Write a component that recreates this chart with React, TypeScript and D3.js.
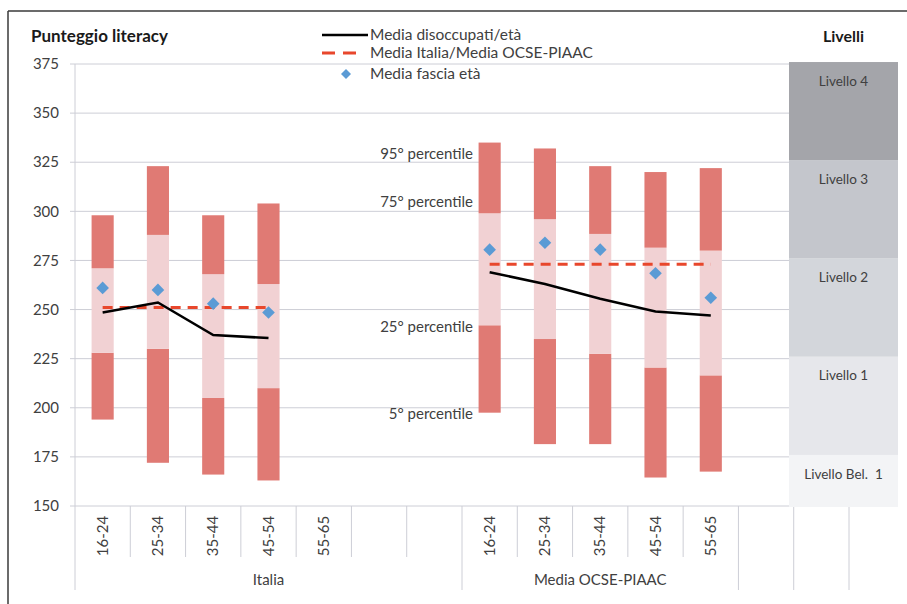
import * as d3 from 'd3';

// categorie sull'asse x (14 slot, come nel grafico originale)
const ageGroups = ['16-24', '25-34', '35-44', '45-54', '55-65'];
const categoryLabels = [...ageGroups, '', '', ...ageGroups, '', ''];
const groupNames = ['Italia', 'Media OCSE-PIAAC', '', ''];
const groupSizes = [7, 5, 1, 1];

// Italia (55-65 non disponibile)
const itaP5 = [194, 172, 166, 163];
const itaP25 = [228, 230, 205, 210];
const itaP75 = [271, 288, 268, 263];
const itaP95 = [298, 323, 298, 304];
const itaFascia = [261, 260, 253, 248.5];
const itaDisoccupati = [248.5, 253.6, 237, 235.5];
const itaMedia = 251;

// Media OCSE-PIAAC
const ocseP5 = [197.5, 181.5, 181.5, 164.5, 167.5];
const ocseP25 = [242, 235, 227.5, 220.5, 216.5];
const ocseP75 = [299, 296, 288.5, 281.5, 280];
const ocseP95 = [335, 332, 323, 320, 322];
const ocseFascia = [280.5, 284, 280.5, 268.5, 256];
const ocseDisoccupati = [269, 263, 255.5, 249, 247];
const ocseMedia = 273;

// etichette dei percentili accanto alla prima barra OCSE
const percentileLabels = ['95° percentile', '75° percentile', '25° percentile', '5° percentile'];
const percentileLabelValues = [329.5, 305, 241, 197];

// livelli di competenza
const levelNames = ['Livello Bel.  1', 'Livello 1', 'Livello 2', 'Livello 3', 'Livello 4'];
const levelBounds = [150, 176, 226, 276, 326, 376];
const levelColors = ['#f3f4f6', '#e6e7eb', '#d3d6db', '#c4c6cc', '#a4a5aa'];

const yTicks = [150, 175, 200, 225, 250, 275, 300, 325, 350, 375];

const width = 907;
const height = 604;
const font = 'Lato, "Open Sans", sans-serif';
const textColor = '#404040';
const gridColor = '#cdced6';
const darkBar = '#e07a74';
const lightBar = '#f1d1d3';
const diamondColor = '#5b9bd5';

export default function App() {
    const yScale = d3.scaleLinear().domain([150, 375]).range([506, 64]);
    const xScale = d3
        .scaleBand<number>()
        .domain(d3.range(categoryLabels.length))
        .range([75, 849]);
    const bw = xScale.bandwidth();
    const barW = bw * 0.4;
    const cx = (i: number) => (xScale(i) as number) + bw / 2;

    const panelX0 = 789;
    const panelX1 = 898;

    const series = [
        { offset: 0, p5: itaP5, p25: itaP25, p75: itaP75, p95: itaP95, fascia: itaFascia, dis: itaDisoccupati, media: itaMedia },
        { offset: 7, p5: ocseP5, p25: ocseP25, p75: ocseP75, p95: ocseP95, fascia: ocseFascia, dis: ocseDisoccupati, media: ocseMedia },
    ];

    const diamond = d3.symbol(d3.symbolSquare, 80)() as string;
    const legendDiamond = d3.symbol(d3.symbolSquare, 50)() as string;

    // confini dei gruppi
    const groupStarts: number[] = [];
    let acc = 0;
    groupSizes.forEach((s) => {
        groupStarts.push(acc);
        acc += s;
    });

    return (
        <svg width={width} height={height} style={{ position: 'absolute', left: 0, top: 0 }} fontFamily={font}>
            <rect width={width} height={height} fill='#fff' />
            {/* cornice */}
            <line x1={8} x2={width} y1={11} y2={11} stroke='#3a3a3a' strokeWidth={1.5} />
            <line x1={8} x2={8} y1={11} y2={height} stroke='#3a3a3a' strokeWidth={1.5} />

            {/* griglia e asse y */}
            {yTicks.map((t) => (
                <g key={t} transform={`translate(0, ${yScale(t)})`}>
                    <line x1={70} x2={panelX0} stroke={gridColor} strokeWidth={1} />
                    <text x={59} dy='0.35em' textAnchor='end' fontSize={15} fill={textColor}>
                        {t}
                    </text>
                </g>
            ))}
            <line x1={75} x2={75} y1={64} y2={590} stroke={gridColor} strokeWidth={1} />

            {/* separatori delle categorie */}
            {d3.range(categoryLabels.length + 1).map((i) => {
                if (i === 0) return null;
                const x = i < categoryLabels.length ? (xScale(i) as number) : 849;
                const isGroup = groupStarts.includes(i) || i === categoryLabels.length;
                return <line key={i} x1={x} x2={x} y1={506} y2={isGroup ? 590 : 557} stroke={gridColor} strokeWidth={1} />;
            })}
            {categoryLabels.map((c, i) =>
                c ? (
                    <text
                        key={i}
                        transform={`translate(${cx(i)}, 536) rotate(-90)`}
                        textAnchor='middle'
                        dy='0.35em'
                        fontSize={15}
                        fill={textColor}
                    >
                        {c}
                    </text>
                ) : null
            )}
            {groupNames.map((g, gi) => {
                const x0 = xScale(groupStarts[gi]) as number;
                const x1 = x0 + groupSizes[gi] * bw;
                return g ? (
                    <text key={gi} x={(x0 + x1) / 2} y={580} dy='0.35em' textAnchor='middle' fontSize={15} fill={textColor}>
                        {g}
                    </text>
                ) : null;
            })}

            {/* barre dei percentili */}
            {series.map((s, si) => (
                <g key={si}>
                    {s.p5.map((_, i) => {
                        const x = cx(s.offset + i) - barW / 2;
                        return (
                            <g key={i}>
                                <rect x={x} y={yScale(s.p25[i])} width={barW} height={yScale(s.p5[i]) - yScale(s.p25[i])} fill={darkBar} />
                                <rect x={x} y={yScale(s.p75[i])} width={barW} height={yScale(s.p25[i]) - yScale(s.p75[i])} fill={lightBar} />
                                <rect x={x} y={yScale(s.p95[i])} width={barW} height={yScale(s.p75[i]) - yScale(s.p95[i])} fill={darkBar} />
                            </g>
                        );
                    })}
                </g>
            ))}

            {/* medie */}
            {series.map((s, si) => {
                const path = d3
                    .line<number>()
                    .x((_, i) => cx(s.offset + i))
                    .y((d) => yScale(d))(s.dis);
                const xEnd = cx(s.offset + s.dis.length - 1);
                return (
                    <g key={si}>
                        <line
                            x1={cx(s.offset)}
                            x2={xEnd}
                            y1={yScale(s.media)}
                            y2={yScale(s.media)}
                            stroke='#e8472c'
                            strokeWidth={3}
                            strokeDasharray='10,7'
                        />
                        <path d={path as string} fill='none' stroke='#000' strokeWidth={2.5} />
                        {s.fascia.map((v, i) => (
                            <path key={i} d={diamond} transform={`translate(${cx(s.offset + i)}, ${yScale(v)}) rotate(45)`} fill={diamondColor} />
                        ))}
                    </g>
                );
            })}

            {/* etichette percentili */}
            {percentileLabels.map((l, i) => (
                <text key={l} x={473} y={yScale(percentileLabelValues[i])} dy='0.35em' textAnchor='end' fontSize={15} fill={textColor}>
                    {l}
                </text>
            ))}

            {/* pannello livelli */}
            {levelNames.map((n, i) => {
                const top = yScale(levelBounds[i + 1]);
                const bottom = i === 0 ? 507 : yScale(levelBounds[i]);
                return (
                    <g key={n}>
                        <rect x={panelX0} y={top} width={panelX1 - panelX0} height={bottom - top} fill={levelColors[i]} />
                        <text
                            x={(panelX0 + panelX1) / 2}
                            y={top + 19}
                            dy='0.35em'
                            textAnchor='middle'
                            fontSize={13.5}
                            fill={textColor}
                            style={{ whiteSpace: 'pre' }}
                        >
                            {n}
                        </text>
                    </g>
                );
            })}
            <text x={(panelX0 + panelX1) / 2} y={42} textAnchor='middle' fontSize={16} fontWeight='bold' fill='#1a1a1a'>
                Livelli
            </text>

            {/* titolo asse */}
            <text x={31} y={42} fontSize={17} fontWeight='bold' fill='#1a1a1a'>
                Punteggio literacy
            </text>

            {/* legenda */}
            <g fontSize={15.5} fill={textColor}>
                <line x1={322} x2={368} y1={35} y2={35} stroke='#000' strokeWidth={2.5} />
                <text x={370} y={35} dy='0.35em'>
                    Media disoccupati/età
                </text>
                <line x1={322} x2={356} y1={53} y2={53} stroke='#e8472c' strokeWidth={3} strokeDasharray='13,8' />
                <text x={370} y={53} dy='0.35em'>
                    Media Italia/Media OCSE-PIAAC
                </text>
                <path d={legendDiamond} transform='translate(346, 74) rotate(45)' fill={diamondColor} />
                <text x={370} y={74} dy='0.35em'>
                    Media fascia età
                </text>
            </g>
        </svg>
    );
}
